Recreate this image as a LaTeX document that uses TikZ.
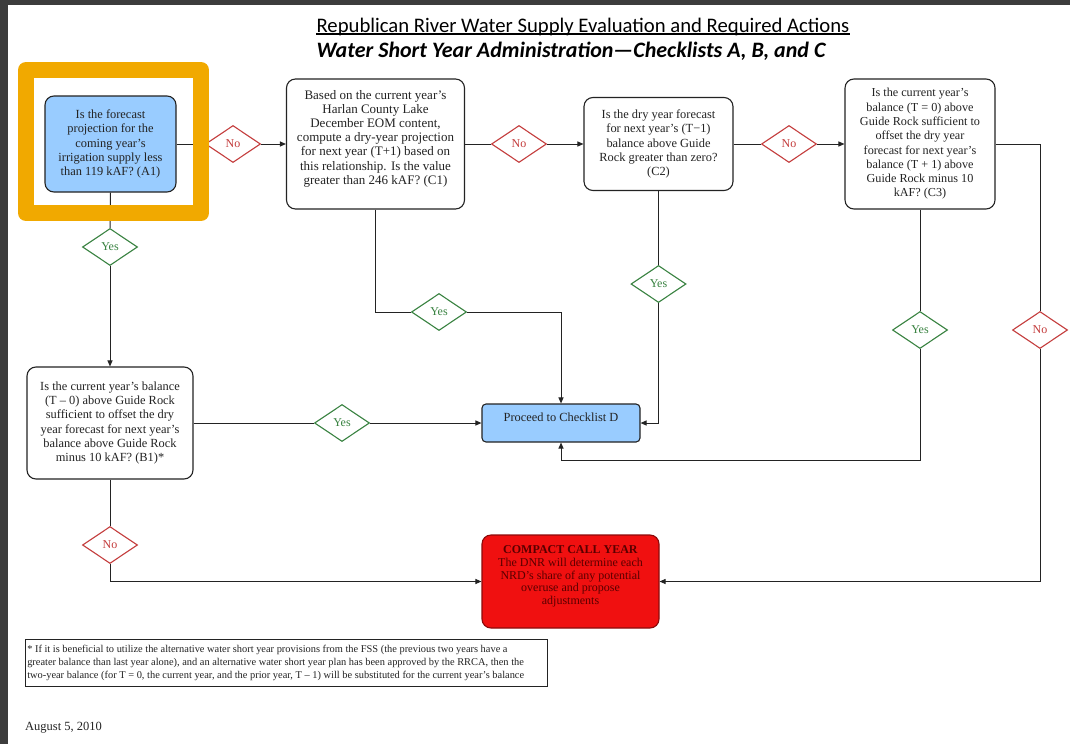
\documentclass[tikz,border=0pt]{standalone}
\usepackage{fontspec}
\setmainfont{Liberation Serif}
\newfontfamily\titlefont{Carlito}
\usetikzlibrary{shapes.geometric,arrows.meta}
\definecolor{framegray}{RGB}{60,60,60}
\definecolor{hl}{RGB}{241,169,0}
\definecolor{lblue}{RGB}{153,204,255}
\definecolor{cred}{RGB}{240,16,16}
\definecolor{credb}{RGB}{140,10,10}
\definecolor{ctxt}{RGB}{90,0,0}
\definecolor{nored}{RGB}{196,60,60}
\definecolor{yesgreen}{RGB}{56,130,64}
\definecolor{ink}{RGB}{35,35,35}
\begin{document}
\begin{tikzpicture}[x=1pt,y=-1pt,
  box/.style={draw=ink, line width=1.1pt, rounded corners=9pt, align=center, inner sep=2pt,
    font=\fontsize{12.4}{14.3}\selectfont, text=ink},
  nod/.style={diamond, draw=nored, line width=1.1pt, minimum width=55pt, minimum height=37pt,
    inner sep=0pt, text=nored, fill=white, font=\fontsize{12}{13}\selectfont},
  yesd/.style={nod, draw=yesgreen, text=yesgreen},
  conn/.style={draw=ink, line width=1pt},
  arr/.style={conn, -{Triangle[length=6pt,width=5pt]}},
]
\useasboundingbox (0,0) rectangle (1070,744);
\fill[white] (0,0) rectangle (1070,744);
\fill[framegray] (0,0) rectangle (1070,5);
\fill[framegray] (0,0) rectangle (8,744);

% titles
\node[anchor=base, inner sep=0, font=\titlefont\fontsize{20.7}{24}\selectfont] (t1) at (583,32)
  {Republican River Water Supply Evaluation and Required Actions};
\draw[black, line width=1.1pt] ([yshift=-2pt]t1.base west) -- ([yshift=-2pt]t1.base east);
\node[anchor=base, inner sep=0, font=\titlefont\bfseries\itshape\fontsize{22}{24}\selectfont] (t2) at (571,57)
  {Water Short Year Administration—Checklists A, B, and C};

% boxes
\node[box, fill=lblue, minimum width=131pt, minimum height=96pt] (A1) at (110.5,144)
  {Is the forecast\\projection for the\\coming year’s\\irrigation supply less\\than 119 kAF? (A1)};
\node[box, minimum width=178pt, minimum height=130pt, font=\fontsize{13}{14.1}\selectfont] (C1) at (375.5,144)
  {\raisebox{2pt}[0pt][0pt]{\begin{tabular}{@{}c@{}}Based on the current year’s\\Harlan County Lake\\December EOM content,\\compute a dry-year projection\\for next year (T+1) based on\\this relationship. Is the value\\greater than 246 kAF? (C1)\end{tabular}}};
\node[box, minimum width=149pt, minimum height=93pt] (C2) at (658.5,144)
  {Is the dry year forecast\\for next year’s (T−1)\\balance above Guide\\Rock greater than zero?\\(C2)};
\node[box, minimum width=150pt, minimum height=130pt, font=\fontsize{12.2}{14.3}\selectfont] (C3) at (920,144)
  {Is the current year’s\\balance (T = 0) above\\Guide Rock sufficient to\\offset the dry year\\forecast for next year’s\\balance (T + 1) above\\Guide Rock minus 10\\kAF? (C3)};
\node[box, minimum width=166pt, minimum height=112pt] (B1) at (110,423)
  {Is the current year’s balance\\(T – 0) above Guide Rock\\sufficient to offset the dry\\year forecast for next year’s\\balance above Guide Rock\\minus 10 kAF? (B1)*};
\node[box, fill=lblue, rounded corners=4pt, minimum width=158pt, minimum height=38pt] (D) at (561,423)
  {\raisebox{2pt}[0pt][0pt]{Proceed to Checklist D}};
\node[box, fill=cred, draw=credb, text=ctxt, minimum width=177pt, minimum height=93pt,
  font=\fontsize{12}{12.8}\selectfont] (CC) at (570.5,581.5)
  {\raisebox{2pt}[0pt][0pt]{\begin{tabular}{@{}c@{}}\textbf{COMPACT CALL YEAR}\\The DNR will determine each\\NRD’s share of any potential\\overuse and propose\\adjustments\end{tabular}}};

% decision labels
\node[nod] (n1) at (233,144) {No};
\node[nod] (n2) at (519,144) {No};
\node[nod] (n3) at (789,144) {No};
\node[nod] (nR) at (1040,330) {No};
\node[nod] (nB) at (110,545) {No};
\node[yesd] (y1) at (110,247) {Yes};
\node[yesd] (y2) at (342,423) {Yes};
\node[yesd] (y3) at (439,312) {Yes};
\node[yesd] (y4) at (658.5,284) {Yes};
\node[yesd] (y5) at (920,330) {Yes};
\coordinate (c3turn) at (920,460);

% connectors
\draw[conn] (A1.east) -- (n1.west);
\draw[arr] (n1.east) -- (C1.west);
\draw[conn] (C1.east) -- (n2.west);
\draw[arr] (n2.east) -- (C2.west);
\draw[conn] (C2.east) -- (n3.west);
\draw[arr] (n3.east) -- (C3.west);
\draw[conn] (C3.east) -| (nR.north);
\draw[arr] (nR.south) |- (CC.east);
\draw[conn] (A1.south) -- (y1.north);
\draw[arr] (y1.south) -- (B1.north);
\draw[conn] (B1.east) -- (y2.west);
\draw[arr] (y2.east) -- (D.west);
\draw[conn] (B1.south) -- (nB.north);
\draw[arr] (nB.south) |- (CC.west);
\draw[conn] (C1.south) |- (y3.west);
\draw[arr] (y3.east) -| (D.north);
\draw[conn] (C2.south) -- (y4.north);
\draw[arr] (y4.south) |- (D.east);
\draw[conn] (C3.south) -- (y5.north);
\draw[arr] (y5.south) -- (c3turn) -| (D.south);

% footnote
\node[draw=ink, line width=0.9pt, minimum width=522pt, minimum height=47pt, inner sep=0] (fn) at (286,662.5) {};
\node[anchor=west, align=left, inner sep=0, text=ink, font=\fontsize{10.4}{13}\selectfont] (fnt) at ([xshift=2.5pt]fn.west)
  {* If it is beneficial to utilize the alternative water short year provisions from the FSS (the previous two years have a\\
   greater balance than last year alone), and an alternative water short year plan has been approved by the RRCA, then the\\
   two-year balance (for T = 0, the current year, and the prior year, T – 1) will be substituted for the current year’s balance};
\node[anchor=base west, inner sep=0, text=ink, font=\fontsize{12.5}{14}\selectfont] (date) at (25,730) {August 5, 2010};

% highlight frame
\draw[hl, line width=16pt, line join=round] (26,70) rectangle (201,213);
\end{tikzpicture}
\end{document}
